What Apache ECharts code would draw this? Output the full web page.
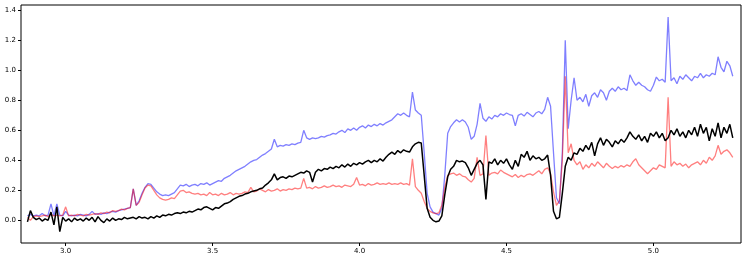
<!DOCTYPE html>
<html>
<head>
<meta charset="utf-8">
<script src="https://cdn.jsdelivr.net/npm/echarts@6/dist/echarts.min.js"></script>
<style>
  html, body { margin: 0; padding: 0; background: #fff; }
  #main { width: 747px; height: 261px; }
</style>
</head>
<body>
<div id="main"></div>
<script>
// wavelength grid: 2.87 .. 5.27, one sample every 0.01
var WL_START = 2.87;
var WL_STEP = 0.01;

var xTicks = [3.0, 3.5, 4.0, 4.5, 5.0];
var yTicks = [0.0, 0.2, 0.4, 0.6, 0.8, 1.0, 1.2, 1.4];

// blue trace
var blueVals = [
  0.03, 0.04, 0.03, 0.035, 0.03, 0.045, 0.03, 0.035, 0.11, 0.03, 0.11, 0.035, 0.03,
  0.06, 0.035, 0.03, 0.035, 0.03, 0.04, 0.035, 0.03, 0.04, 0.06,
  0.04, 0.045, 0.04, 0.05, 0.045, 0.055, 0.06, 0.055, 0.065, 0.07,
  0.075, 0.08, 0.085, 0.21, 0.10, 0.13, 0.18, 0.22, 0.245, 0.24,
  0.215, 0.19, 0.175, 0.165, 0.17, 0.165, 0.175, 0.185, 0.21, 0.235,
  0.23, 0.24, 0.225, 0.235, 0.24, 0.23, 0.245, 0.24, 0.25, 0.235,
  0.245, 0.255, 0.265, 0.26, 0.28, 0.29, 0.30, 0.315, 0.33, 0.34,
  0.35, 0.36, 0.375, 0.39, 0.40, 0.405, 0.42, 0.435, 0.445, 0.46,
  0.475, 0.54, 0.49, 0.50, 0.495, 0.505, 0.50, 0.51, 0.505, 0.515,
  0.52, 0.60, 0.55, 0.54, 0.55, 0.545, 0.55, 0.56, 0.555, 0.565,
  0.57, 0.58, 0.575, 0.59, 0.60, 0.585, 0.61, 0.60, 0.615, 0.60,
  0.62, 0.63, 0.615, 0.635, 0.625, 0.64, 0.63, 0.645, 0.635, 0.65,
  0.66, 0.67, 0.69, 0.71, 0.70, 0.715, 0.70, 0.69, 0.855, 0.735,
  0.715, 0.70, 0.45, 0.18, 0.09, 0.055, 0.045, 0.035, 0.08, 0.30,
  0.58, 0.625, 0.65, 0.67, 0.655, 0.67, 0.655, 0.62, 0.54, 0.56,
  0.64, 0.78, 0.68, 0.66, 0.69, 0.675, 0.70, 0.69, 0.71, 0.70,
  0.715, 0.705, 0.70, 0.63, 0.70, 0.71, 0.695, 0.72, 0.705, 0.69,
  0.715, 0.725, 0.71, 0.74, 0.82, 0.76, 0.45, 0.15, 0.11, 0.45,
  1.20, 0.61, 0.80, 0.95, 0.80, 0.82, 0.79, 0.84, 0.76, 0.83,
  0.85, 0.82, 0.87, 0.85, 0.80, 0.86, 0.88, 0.86, 0.89, 0.87,
  0.88, 0.865, 0.97, 0.93, 0.90, 0.92, 0.90, 0.89, 0.87, 0.86,
  0.90, 0.955, 0.93, 0.94, 0.92, 1.355, 0.93, 0.95, 0.91, 0.96,
  0.94, 0.97, 0.95, 0.93, 0.96, 0.95, 0.98, 0.95, 0.97, 0.96,
  0.98, 0.97, 1.09, 1.02, 0.99, 1.06, 1.03, 0.96
];

// red trace
var redVals = [
  0.02, 0.0, 0.025, 0.03, 0.025, 0.03, 0.035, 0.025, 0.04, 0.03, 0.035, 0.03, 0.035,
  0.09, 0.03, 0.035, 0.03, 0.04, 0.035, 0.03, 0.04, 0.035, 0.04,
  0.045, 0.04, 0.05, 0.045, 0.055, 0.05, 0.065, 0.06, 0.065, 0.075,
  0.07, 0.08, 0.085, 0.21, 0.10, 0.12, 0.17, 0.215, 0.235, 0.23,
  0.20, 0.17, 0.15, 0.14, 0.135, 0.14, 0.15, 0.145, 0.17, 0.195,
  0.20, 0.185, 0.19, 0.18, 0.175, 0.18, 0.17, 0.175, 0.165, 0.185,
  0.17, 0.175, 0.165, 0.18, 0.17, 0.175, 0.185, 0.17, 0.18, 0.175,
  0.18, 0.19, 0.185, 0.22, 0.19, 0.195, 0.21, 0.20, 0.19, 0.205,
  0.195, 0.20, 0.21, 0.195, 0.205, 0.20, 0.21, 0.205, 0.215, 0.21,
  0.215, 0.28, 0.215, 0.22, 0.21, 0.225, 0.215, 0.22, 0.23, 0.22,
  0.225, 0.235, 0.225, 0.23, 0.22, 0.235, 0.23, 0.225, 0.24, 0.285,
  0.235, 0.24, 0.23, 0.245, 0.235, 0.24, 0.25, 0.24, 0.245, 0.24,
  0.25, 0.24, 0.245, 0.24, 0.25, 0.24, 0.245, 0.235, 0.41, 0.225,
  0.20, 0.18, 0.125, 0.08, 0.06, 0.05, 0.045, 0.05, 0.10, 0.22,
  0.30, 0.31, 0.315, 0.30, 0.31, 0.295, 0.29, 0.27, 0.255, 0.28,
  0.42, 0.30, 0.31, 0.565, 0.30, 0.315, 0.32, 0.31, 0.335, 0.32,
  0.31, 0.30, 0.29, 0.305, 0.285, 0.30, 0.29, 0.305, 0.31, 0.30,
  0.315, 0.33, 0.31, 0.34, 0.35, 0.31, 0.19, 0.10, 0.13, 0.40,
  0.96, 0.45, 0.51, 0.40, 0.37, 0.39, 0.34, 0.37, 0.35, 0.38,
  0.36, 0.39, 0.37, 0.35, 0.38, 0.36, 0.345, 0.36, 0.35, 0.365,
  0.355, 0.37, 0.36, 0.39, 0.41, 0.37, 0.35, 0.33, 0.31, 0.33,
  0.35, 0.34, 0.37, 0.36, 0.35, 0.82, 0.36, 0.39, 0.37, 0.38,
  0.36, 0.375, 0.35, 0.37, 0.38, 0.39, 0.37, 0.40, 0.38, 0.42,
  0.40, 0.43, 0.50, 0.44, 0.46, 0.47, 0.45, 0.42
];

// black trace
var blackVals = [
  -0.01, 0.065, 0.02, 0.005, 0.015, -0.005, 0.01, 0.0, 0.055, -0.03, 0.09, -0.075, 0.02,
  -0.005, 0.01, -0.01, 0.015, 0.0, 0.01, -0.005, 0.015, 0.0, 0.02,
  -0.01, 0.025, 0.0, -0.015, 0.01, -0.005, 0.015, 0.0, 0.01, 0.005,
  0.02, 0.01, 0.015, 0.02, 0.01, 0.025, 0.015, 0.02, 0.01, 0.025,
  0.015, 0.03, 0.02, 0.035, 0.03, 0.04, 0.035, 0.045, 0.05, 0.045,
  0.055, 0.05, 0.06, 0.055, 0.065, 0.075, 0.07, 0.085, 0.09, 0.08,
  0.07, 0.085, 0.08, 0.095, 0.11, 0.115, 0.125, 0.14, 0.15, 0.16,
  0.165, 0.175, 0.18, 0.19, 0.195, 0.20, 0.21, 0.215, 0.235, 0.25,
  0.27, 0.31, 0.27, 0.285, 0.29, 0.28, 0.295, 0.29, 0.30, 0.31,
  0.32, 0.315, 0.33, 0.32, 0.255, 0.32, 0.34, 0.33, 0.345, 0.34,
  0.355, 0.345, 0.36, 0.35, 0.37, 0.355, 0.375, 0.36, 0.38, 0.37,
  0.385, 0.375, 0.39, 0.40, 0.385, 0.40, 0.39, 0.41, 0.395, 0.42,
  0.44, 0.455, 0.44, 0.465, 0.45, 0.47, 0.46, 0.455, 0.49, 0.51,
  0.52, 0.515, 0.30, 0.08, 0.02, 0.0, -0.01, -0.005, 0.03, 0.17,
  0.29, 0.34, 0.36, 0.40, 0.39, 0.395, 0.385, 0.35, 0.30, 0.34,
  0.38, 0.40, 0.37, 0.14, 0.39, 0.38, 0.41, 0.37, 0.40, 0.38,
  0.41, 0.37, 0.34, 0.40, 0.36, 0.44, 0.42, 0.46, 0.40, 0.43,
  0.41, 0.42, 0.40, 0.41, 0.435, 0.30, 0.06, 0.01, 0.02, 0.18,
  0.36, 0.42, 0.40, 0.45, 0.44, 0.48, 0.46, 0.50, 0.47, 0.52,
  0.43, 0.51, 0.55, 0.50, 0.54, 0.52, 0.49, 0.53, 0.51, 0.54,
  0.52, 0.55, 0.59, 0.56, 0.54, 0.57, 0.53, 0.56, 0.52, 0.58,
  0.56, 0.59, 0.55, 0.58, 0.53, 0.55, 0.60, 0.57, 0.61, 0.56,
  0.59, 0.55, 0.60, 0.57, 0.62, 0.56, 0.64, 0.58, 0.62, 0.53,
  0.61, 0.56, 0.65, 0.55, 0.62, 0.58, 0.64, 0.55
];

function pair(vals) {
  return vals.map(function (v, i) {
    return [+(WL_START + i * WL_STEP).toFixed(2), v];
  });
}

var myChart = echarts.init(document.getElementById('main'));

var labelFont = { fontFamily: 'DejaVu Sans', fontSize: 7, color: '#000' };

var option = {
  animation: false,
  grid: {
    left: 21, right: 6, top: 5, bottom: 18,
    show: true, borderColor: '#000', borderWidth: 1, backgroundColor: '#fff'
  },
  xAxis: {
    type: 'value',
    min: 2.848,
    max: 5.298,
    splitLine: { show: false },
    axisLine: { show: false, onZero: false },
    axisTick: { show: true, length: 3, lineStyle: { color: '#000' }, customValues: xTicks },
    axisLabel: Object.assign({
      margin: 5,
      customValues: xTicks,
      formatter: function (v) { return v.toFixed(1); }
    }, labelFont)
  },
  yAxis: {
    type: 'value',
    min: -0.151,
    max: 1.435,
    splitLine: { show: false },
    axisLine: { show: false, onZero: false },
    axisTick: { show: true, length: 3, lineStyle: { color: '#000' }, customValues: yTicks },
    axisLabel: Object.assign({
      margin: 5,
      customValues: yTicks,
      formatter: function (v) { return v.toFixed(1); }
    }, labelFont)
  },
  series: [
    {
      type: 'line', data: pair(blueVals), showSymbol: false, silent: true,
      lineStyle: { color: 'rgba(0,0,255,0.5)', width: 1.3 }, z: 2
    },
    {
      type: 'line', data: pair(redVals), showSymbol: false, silent: true,
      lineStyle: { color: 'rgba(255,0,0,0.5)', width: 1.3 }, z: 3
    },
    {
      type: 'line', data: pair(blackVals), showSymbol: false, silent: true,
      lineStyle: { color: '#000', width: 1.5 }, z: 4
    }
  ]
};

myChart.setOption(option);
</script>
</body>
</html>
